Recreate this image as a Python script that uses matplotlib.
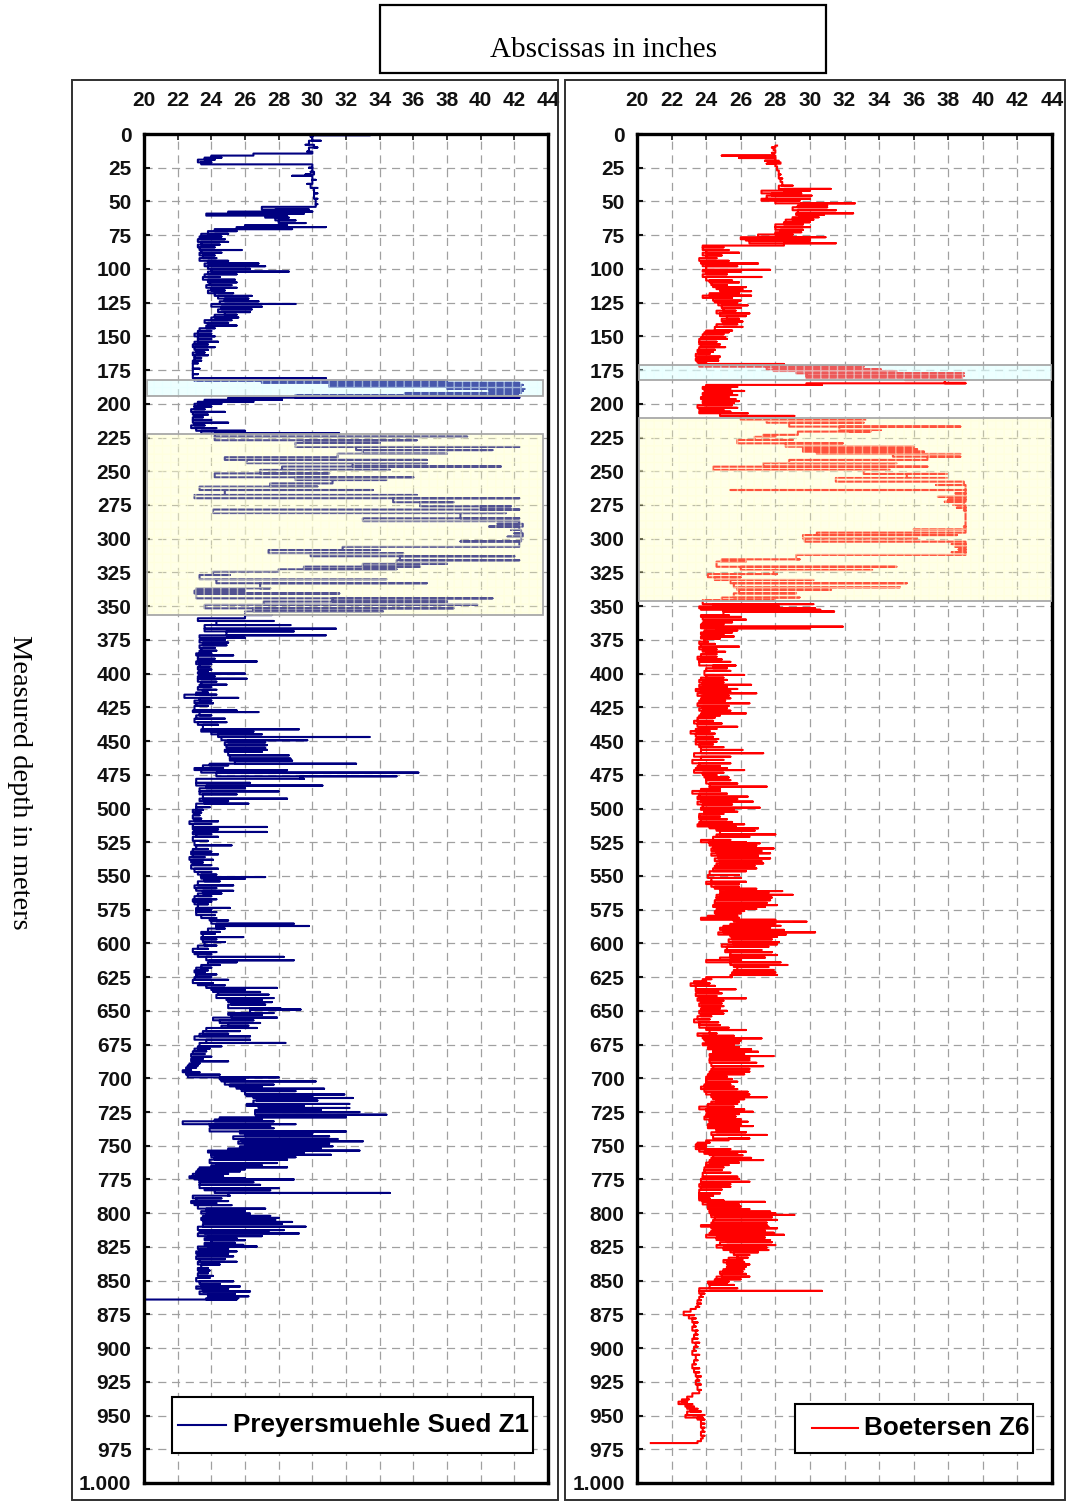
import numpy as np
import matplotlib.pyplot as plt
from matplotlib.patches import Rectangle
from matplotlib.lines import Line2D

# ---- data ----------------------------------------------------------------
# each row: depth (m), value the log runs along (base) and the value it
# swings out to at that depth (swing), both in inches

z1_name = "Preyersmuehle Sued Z1"
z1_depth = [1, 2, 5, 8, 10, 13, 14.5, 16, 17.5, 19,
            21, 22.5, 25, 28, 30, 31, 34, 37, 40, 44,
            48, 52, 54, 56, 57.5, 59, 60.5, 62, 64, 66,
            67.5, 69, 70.5, 72, 74, 76, 78, 80, 82, 84,
            86, 88, 90, 92, 94, 96, 98, 100, 102, 104,
            106, 108, 110, 112, 114, 116, 118, 120, 122, 124,
            126, 128, 130, 132, 134, 136, 138, 140, 142, 144,
            146, 148, 150, 152, 154, 156, 158, 160, 162, 164,
            166, 168, 170, 174, 178, 181, 183, 184.5, 186, 187.5,
            189, 190.5, 192, 193.5, 195.5, 197, 198.5, 200, 202, 204,
            206, 208, 210, 212, 214, 216, 218, 220, 222, 224.4,
            227, 229, 232, 234.3, 237, 239.6, 241.6, 244, 246.5, 249,
            251.6, 254.5, 256.5, 259, 261.4, 263.9, 267.6, 270, 273, 276,
            278.4, 281, 284.9, 287, 289, 291, 293.5, 296, 298.5, 302,
            306, 308.4, 310.8, 313, 316, 318.5, 320.7, 322.7, 324.4, 326.9,
            330, 333, 336.8, 338.5, 340.6, 344.2, 346.6, 349, 351.6, 354,
            356.6, 359, 361, 364, 366.7, 368.7, 371.6, 373.5, 375, 377,
            379, 381, 383, 385, 386.5, 389, 391, 393, 395, 397,
            399, 400, 402, 403.8, 406, 408.2, 410, 412, 414, 415.6,
            418, 420, 422, 424, 427.3, 428.5, 431, 433.4, 436, 438,
            441.3, 443, 445, 447, 449.4, 451, 453, 455, 456.5, 458,
            460.6, 463, 464.5, 466.8, 468, 470, 471.5, 473.4, 476.1, 478,
            481, 483, 485, 487.3, 489.5, 492.7, 494.5, 496.4, 499, 501,
            503, 505, 507.5, 509.5, 511.5, 513.7, 515.5, 517.4, 519, 521,
            524, 527.3, 530, 532, 534, 536, 538, 540, 542, 544.6,
            547, 549, 550.8, 552, 554, 557, 559, 561, 563, 565,
            567.3, 569, 571, 573.7, 575, 576.8, 579, 581.2, 583, 585.4,
            587.1, 589, 591.5, 593, 595.3, 597, 599, 601.6, 604, 606.4,
            608, 610, 612.5, 614, 616, 618, 620, 621.5, 623, 625,
            627, 629.4, 631, 633, 634.5, 636, 638, 640.5, 642, 643.5,
            645.4, 648, 649, 651.6, 653, 655, 657, 659, 661, 662.7,
            665, 667, 668.9, 671.4, 673.8, 676.3, 678, 680, 682, 684,
            685.5, 687.4, 689, 690.5, 692, 694, 695.5, 697.3, 699.3, 700.8,
            702.3, 704.7, 706, 707.7, 709.5, 712, 713.3, 714.6, 716.5, 719,
            720.5, 722, 723.5, 725, 727, 728.9, 730.5, 731.9, 734, 735.5,
            737, 739.4, 741, 743, 745, 746.7, 748.5, 750.4, 752, 753.6,
            755, 756.7, 758.5, 760.3, 762.8, 764.5, 766, 767.5, 769, 770.8,
            772.6, 774, 775, 777, 779, 781.4, 783, 785, 787, 789,
            791, 792.5, 794, 796.6, 798.5, 800.3, 802, 803.5, 805, 806.5,
            808, 810, 812.5, 814, 815, 817, 818.6, 820, 822, 823.5,
            824.7, 826.5, 828.3, 830, 832, 834, 836, 838, 840.6, 842.5,
            844.5, 846.5, 848, 850.5, 852.5, 854.3, 856, 858, 860, 861.6,
            863, 864]
z1_base = [30.0, 30.0, 29.8, 30.1, 29.8, 30.0, 26.5, 24.0, 23.6, 23.2,
           23.4, 30.0, 30.0, 30.1, 29.9, 30.0, 30.0, 29.9, 30.1, 30.1,
           30.2, 30.2, 27.0, 27.8, 25.0, 23.7, 27.2, 27.8, 28.0, 28.2,
           26.0, 25.5, 24.2, 23.8, 23.4, 23.3, 23.2, 23.4, 23.2, 23.3,
           23.4, 23.3, 23.5, 23.3, 23.8, 23.6, 23.8, 24.0, 23.8, 23.6,
           23.5, 23.8, 23.9, 23.7, 24.0, 23.8, 24.2, 24.4, 24.8, 24.5,
           24.0, 24.6, 24.4, 24.8, 24.2, 24.0, 23.6, 23.8, 23.7, 23.3,
           23.2, 23.0, 23.2, 23.2, 23.0, 22.9, 23.0, 23.1, 22.9, 23.0,
           23.0, 22.9, 22.9, 22.9, 22.9, 23.0, 27.0, 36.0, 31.0, 38.0,
           40.5, 41.0, 35.5, 29.0, 25.0, 23.6, 23.2, 23.0, 23.0, 22.8,
           22.9, 23.0, 22.9, 22.9, 23.0, 22.8, 23.1, 23.4, 24.2, 24.2,
           29.5, 29.0, 32.6, 33.0, 31.5, 24.8, 26.1, 32.4, 28.2, 26.9,
           24.2, 29.0, 31.2, 27.5, 23.3, 24.8, 23.0, 34.8, 36.4, 40.0,
           24.1, 38.8, 33.0, 42.3, 42.5, 42.3, 42.4, 42.5, 42.4, 42.3,
           31.8, 27.4, 29.9, 35.2, 35.0, 33.0, 29.5, 28.0, 24.1, 23.3,
           24.3, 26.9, 23.1, 23.0, 23.1, 31.2, 27.1, 23.6, 26.5, 26.0,
           26.0, 23.2, 24.3, 23.6, 23.6, 24.9, 23.3, 23.4, 23.3, 23.5,
           23.3, 23.4, 23.3, 23.1, 23.2, 23.2, 23.1, 23.3, 23.2, 23.3,
           23.2, 23.3, 23.2, 23.2, 23.4, 23.3, 23.2, 23.5, 23.1, 22.4,
           23.3, 23.0, 23.1, 23.0, 22.9, 23.3, 23.1, 23.0, 23.2, 23.5,
           23.4, 24.0, 24.4, 24.6, 25.0, 24.8, 24.9, 25.0, 24.8, 25.0,
           25.1, 25.1, 25.4, 23.9, 23.5, 23.0, 23.4, 24.3, 29.3, 23.1,
           23.1, 23.7, 23.3, 23.3, 23.5, 23.3, 23.6, 23.1, 23.1, 22.9,
           23.0, 22.9, 23.0, 22.7, 22.9, 22.9, 23.0, 22.9, 23.1, 22.9,
           23.0, 23.1, 22.9, 22.8, 22.9, 22.7, 22.8, 22.9, 22.8, 23.0,
           23.2, 23.4, 23.4, 23.6, 23.2, 23.0, 23.1, 23.5, 23.2, 23.0,
           22.9, 23.0, 23.2, 23.1, 23.1, 23.1, 23.4, 23.9, 24.0, 24.3,
           24.3, 23.8, 23.4, 23.5, 23.4, 23.5, 23.6, 23.2, 22.9, 23.0,
           23.2, 23.7, 23.9, 23.8, 23.4, 23.1, 23.0, 23.1, 23.1, 23.0,
           22.9, 23.2, 23.7, 24.0, 24.1, 24.4, 24.3, 24.9, 25.0, 25.2,
           25.0, 26.3, 26.3, 25.0, 25.2, 24.1, 24.5, 25.0, 24.6, 23.7,
           23.5, 23.3, 23.0, 23.7, 23.3, 23.2, 23.0, 22.9, 22.8, 22.9,
           22.8, 22.9, 22.7, 22.6, 22.5, 22.3, 22.5, 22.6, 24.5, 24.6,
           24.8, 25.1, 25.5, 25.8, 26.0, 26.1, 26.5, 26.7, 26.5, 26.1,
           26.8, 27.3, 26.6, 26.6, 26.7, 24.5, 24.2, 22.3, 23.9, 24.0,
           23.9, 25.7, 26.0, 25.3, 25.8, 25.6, 26.0, 25.7, 25.0, 23.8,
           24.0, 24.0, 24.2, 23.9, 24.3, 24.0, 23.3, 23.2, 23.1, 22.9,
           22.7, 23.0, 23.3, 23.3, 23.3, 23.6, 24.2, 25.0, 22.9, 23.1,
           22.8, 23.0, 23.2, 23.7, 23.4, 23.7, 23.5, 23.4, 23.5, 23.6,
           23.5, 23.2, 23.3, 23.6, 23.2, 23.8, 23.6, 24.0, 23.6, 23.8,
           23.2, 23.3, 23.1, 23.2, 23.1, 23.3, 23.2, 23.4, 23.2, 23.3,
           23.2, 23.3, 23.1, 23.3, 23.4, 23.1, 23.5, 23.3, 23.8, 23.9,
           23.7, 20.0]
z1_swing = [33.4, 29.9, 30.5, 29.6, 30.3, 29.7, 29.0, 26.0, 24.6, 24.2,
            24.0, 23.5, 29.8, 29.9, 29.6, 28.8, 30.2, 29.7, 30.3, 30.3,
            30.3, 30.3, 30.2, 29.8, 30.0, 29.5, 28.5, 28.6, 29.0, 29.6,
            28.5, 30.8, 28.8, 25.5, 25.0, 24.6, 24.8, 25.0, 24.5, 24.2,
            25.8, 24.6, 24.2, 24.3, 25.0, 26.8, 27.2, 26.3, 28.6, 25.5,
            24.5, 25.4, 25.5, 25.2, 25.5, 24.8, 25.3, 26.4, 26.2, 26.8,
            29.0, 27.0, 26.4, 26.3, 25.5, 25.6, 25.2, 25.0, 25.5, 24.2,
            24.0, 24.0, 24.2, 24.0, 24.4, 23.8, 24.2, 23.8, 23.6, 23.8,
            23.4, 23.4, 23.2, 23.3, 23.2, 30.8, 38.0, 42.3, 42.5, 42.4,
            42.6, 42.5, 42.4, 42.2, 42.3, 28.2, 26.5, 24.6, 24.0, 23.6,
            24.8, 23.8, 23.5, 24.0, 25.0, 23.6, 24.3, 26.0, 31.6, 39.2,
            36.2, 34.0, 42.3, 40.7, 38.0, 29.5, 36.8, 36.8, 41.2, 34.6,
            31.0, 36.0, 34.4, 31.0, 30.3, 33.6, 36.2, 42.3, 38.4, 41.8,
            42.3, 41.5, 42.3, 40.4, 41.0, 40.5, 41.8, 42.0, 41.6, 38.8,
            42.3, 34.0, 35.4, 42.0, 42.3, 38.0, 36.4, 35.0, 27.9, 25.1,
            34.4, 36.8, 27.5, 26.0, 31.6, 40.7, 38.0, 39.8, 38.4, 34.2,
            27.6, 25.5, 27.7, 28.7, 31.4, 28.9, 30.8, 26.0, 24.8, 25.0,
            24.9, 24.2, 24.3, 24.0, 25.3, 24.2, 26.7, 24.0, 23.9, 24.0,
            23.8, 26.0, 24.2, 26.1, 24.3, 24.9, 24.0, 24.3, 23.8, 24.3,
            25.6, 24.0, 24.1, 23.8, 25.5, 26.8, 24.0, 24.8, 24.9, 24.4,
            29.2, 26.5, 27.0, 33.4, 29.7, 27.2, 27.3, 27.2, 27.3, 27.0,
            28.6, 28.7, 28.8, 32.6, 25.0, 24.7, 28.5, 36.3, 35.0, 29.5,
            26.3, 30.6, 26.0, 28.0, 25.5, 28.5, 25.0, 26.2, 23.9, 23.5,
            23.4, 23.3, 23.4, 24.4, 24.0, 27.3, 24.4, 27.3, 24.0, 24.4,
            23.8, 25.2, 23.8, 24.0, 24.4, 23.6, 24.1, 23.5, 24.0, 24.4,
            24.0, 24.3, 27.2, 26.0, 24.5, 25.3, 24.3, 25.3, 24.6, 24.0,
            24.3, 24.0, 23.8, 25.1, 24.0, 24.3, 24.2, 24.3, 25.0, 28.9,
            29.8, 24.8, 24.5, 24.2, 25.9, 24.3, 24.8, 24.3, 23.8, 24.3,
            24.0, 28.3, 28.9, 25.5, 24.5, 24.0, 23.8, 23.6, 24.3, 24.0,
            25.0, 24.1, 24.8, 27.9, 26.0, 26.9, 27.4, 27.7, 27.0, 27.6,
            27.2, 28.1, 29.3, 27.7, 27.0, 27.9, 26.5, 26.9, 26.2, 26.7,
            25.7, 25.0, 26.3, 26.3, 28.4, 24.6, 23.9, 23.7, 23.6, 24.0,
            23.5, 25.0, 23.3, 23.2, 23.1, 22.8, 23.3, 24.5, 28.0, 26.0,
            30.2, 27.7, 27.0, 30.7, 29.0, 31.9, 30.0, 32.4, 30.3, 32.2,
            29.5, 32.2, 30.5, 32.8, 34.4, 32.0, 27.0, 27.7, 29.0, 27.5,
            27.7, 32.0, 30.0, 31.0, 31.5, 33.0, 31.0, 31.2, 30.5, 32.8,
            29.5, 31.1, 29.0, 28.5, 27.9, 27.0, 28.5, 26.0, 25.7, 25.0,
            24.7, 26.0, 28.9, 26.5, 26.9, 28.0, 27.5, 34.6, 25.1, 24.6,
            25.0, 24.3, 25.2, 27.2, 26.0, 26.3, 27.5, 28.0, 27.8, 28.8,
            28.2, 29.6, 28.3, 27.4, 29.2, 27.0, 25.5, 26.0, 25.4, 25.9,
            26.7, 25.0, 25.5, 25.0, 25.3, 24.8, 25.5, 24.5, 23.8, 23.9,
            23.8, 24.1, 23.9, 25.3, 24.5, 25.7, 25.0, 26.3, 25.4, 26.2,
            25.6, 25.5]

z6_name = "Boetersen Z6"
z6_depth = [8.6, 10, 12, 14, 16, 17.8, 19.8, 21, 22, 24,
            27, 30, 33, 35.5, 38.3, 40.7, 42, 44, 45.7, 48,
            49.5, 51.4, 53, 54.3, 56.5, 58.8, 60, 61.7, 63.5, 65.4,
            67, 69, 71, 72.8, 74.5, 76.5, 78, 79, 81, 82.7,
            84, 86, 88, 90, 92, 94, 96, 98, 100.7, 102,
            104, 106, 108.6, 110, 112, 113.5, 115, 116.5, 118, 119.8,
            121.5, 123.5, 125, 127, 129, 131, 133, 135, 137, 139,
            141, 143, 145.7, 147, 148.5, 150.6, 151.9, 154, 156, 158,
            160, 161.5, 163, 165, 166.5, 168, 169.5, 170.5, 172.5, 174.5,
            175.7, 177.4, 179.4, 181, 182.4, 184.8, 186, 187.5, 189, 190.5,
            192, 193.5, 195, 196.5, 198, 199.5, 201, 203, 204.5, 205.8,
            207, 209, 212, 214, 216.9, 219.4, 220.6, 223, 224.5, 226.8,
            229.3, 231.8, 233.8, 235.5, 237.2, 239.2, 241.6, 244, 246.6, 249,
            252, 255, 257.7, 260.2, 263.9, 266.4, 268.9, 271, 272.6, 275,
            277, 279, 282, 286, 291, 293, 295.5, 297.3, 299.7, 302.2,
            304, 306, 308, 310, 312, 315.3, 317, 320.8, 323.2, 326.2,
            328.6, 330.6, 333, 336, 338, 340.5, 343.5, 345.5, 348.5, 350.2,
            351.6, 352.7, 354, 356.6, 358, 360, 362, 363.5, 365.2, 366.4,
            368, 369.5, 371, 372.5, 374, 376.3, 378, 380, 382, 383.8,
            385.5, 387.5, 389.5, 391.3, 394, 396, 398, 401, 403, 404.7,
            406.5, 408.3, 410, 411.4, 413, 414.6, 416.5, 418.3, 420, 422,
            424, 425.7, 427.5, 429.5, 431, 432.6, 435, 437, 439.4, 441,
            442.6, 444.5, 446.8, 448.5, 450.5, 452.5, 454.5, 456.6, 459, 461.6,
            464, 466.5, 468.5, 470, 471.5, 473.5, 475.2, 477, 479, 481.5,
            483.8, 485.5, 487, 489, 491.2, 493, 494.9, 497, 499.4, 501,
            502.4, 504, 506, 508, 510, 511.7, 513.3, 514.7, 516.5, 519.2,
            521, 523.3, 525, 525.8, 527.5, 529.6, 531.5, 533.2, 535, 537,
            539, 540.7, 542.5, 544.4, 546.5, 549.3, 551.5, 554.3, 556, 558,
            559.5, 561.2, 562.5, 564, 566, 568, 570, 571.6, 573, 574.5,
            576, 577.7, 579.5, 581, 582.5, 583.9, 585.5, 587, 588.4, 590,
            591.8, 593.5, 595, 597, 599, 600.7, 602.5, 604.9, 606.5, 608.6,
            610.5, 612.3, 614, 616, 617.5, 619.7, 621.5, 623.4, 625, 626.5,
            628, 629.6, 631.5, 634, 635.5, 637, 639, 640.7, 642.5, 644.5,
            646.5, 648.2, 650, 652, 654, 656.3, 658.5, 660.5, 662.5, 664.2,
            666.7, 668.5, 670.4, 672, 674, 675.5, 677, 678.5, 680.3, 682,
            683.5, 685, 686.5, 688.5, 691, 693, 695, 697, 698.8, 700.5,
            702.5, 704.5, 706.2, 708, 710, 712, 714, 715.5, 717.3, 719,
            721, 723, 724.8, 726.5, 728.4, 730.5, 732.2, 734, 735.4, 737,
            738.3, 740, 742, 744.6, 746, 747.7, 749, 750.6, 752.5, 754.4,
            756, 757, 759, 760.6, 762.5, 764.3, 766, 768, 770, 772.9,
            774.5, 776.7, 778.5, 780.4, 782.5, 785.3, 787, 789, 790.5, 791.6,
            793.5, 795, 797, 798.8, 800, 801.3, 803, 805, 807, 808.8,
            810, 811.2, 813, 814.5, 816, 818, 819.9, 821.5, 823.6, 825.5,
            827.3, 829, 831, 833, 834.7, 836.5, 838, 839.6, 841.5, 843.3,
            845, 847, 849, 850.7, 852, 853.2, 855.6, 857.6, 859.6, 862,
            864.5, 867, 869.4, 871, 873, 875.6, 878, 881, 884, 887,
            890, 893, 896, 899, 902, 905, 909, 912, 915, 918,
            921, 924, 927, 931, 933.5, 936, 938, 939.7, 941.5, 943.4,
            945, 947, 949.6, 951.5, 953, 956, 959, 962, 965, 967,
            969, 970.4]
z6_base = [28.0, 27.9, 28.0, 27.9, 28.0, 28.0, 28.2, 28.3, 28.0, 28.1,
           28.2, 28.2, 28.3, 28.4, 28.2, 28.5, 27.2, 27.8, 27.5, 27.2,
           28.0, 29.5, 29.3, 29.0, 29.3, 29.2, 29.4, 29.0, 28.6, 28.5,
           28.0, 28.0, 28.3, 28.0, 27.0, 26.0, 26.3, 26.5, 28.5, 23.8,
           23.8, 24.0, 23.8, 24.0, 23.6, 23.7, 23.8, 24.0, 23.8, 24.0,
           23.8, 24.0, 24.2, 24.3, 24.4, 24.6, 24.8, 24.9, 24.2, 23.8,
           24.4, 24.5, 24.7, 24.9, 25.0, 24.6, 24.8, 25.2, 24.9, 25.0,
           24.6, 24.5, 24.0, 23.9, 23.8, 23.7, 23.6, 23.6, 23.7, 23.6,
           23.5, 23.6, 23.4, 23.5, 23.4, 23.5, 23.6, 23.6, 27.5, 27.9,
           29.2, 29.8, 29.8, 35.5, 37.8, 29.8, 24.0, 23.8, 23.9, 24.0,
           23.8, 23.9, 23.7, 24.0, 23.8, 23.9, 23.5, 23.6, 23.8, 23.6,
           24.8, 26.0, 27.5, 28.8, 31.7, 32.3, 29.3, 27.3, 26.8, 25.8,
           28.6, 29.6, 29.6, 30.4, 34.8, 36.8, 28.8, 27.3, 24.4, 33.1,
           35.6, 31.5, 38.9, 39.0, 39.0, 39.0, 39.0, 39.0, 38.9, 39.0,
           39.0, 39.0, 39.0, 39.0, 39.0, 39.0, 30.4, 29.6, 29.7, 39.0,
           39.0, 39.0, 39.0, 39.0, 29.2, 24.9, 24.6, 26.0, 27.9, 24.1,
           24.5, 25.4, 25.6, 25.8, 25.9, 25.6, 24.9, 23.8, 24.4, 23.6,
           23.7, 25.0, 25.0, 23.7, 23.8, 23.9, 23.8, 23.7, 23.7, 24.6,
           23.9, 23.7, 23.8, 23.7, 23.9, 23.6, 23.7, 23.6, 23.8, 24.0,
           23.7, 23.5, 23.6, 23.6, 24.4, 24.0, 23.9, 24.0, 23.7, 23.6,
           23.8, 23.6, 23.7, 23.4, 23.7, 23.5, 23.8, 23.7, 23.6, 23.5,
           23.8, 23.6, 23.8, 23.7, 23.6, 23.5, 23.3, 23.5, 23.6, 23.4,
           23.1, 23.4, 23.5, 23.4, 23.4, 23.6, 23.7, 23.7, 23.3, 23.7,
           23.2, 23.6, 23.5, 23.4, 23.3, 23.8, 23.9, 24.0, 24.0, 24.2,
           24.2, 23.7, 23.2, 23.6, 23.5, 23.7, 23.5, 23.8, 23.7, 23.9,
           23.9, 23.6, 23.6, 23.7, 23.6, 23.5, 24.2, 24.6, 24.8, 24.6,
           24.4, 23.7, 24.2, 24.2, 24.4, 24.3, 24.6, 24.3, 24.7, 24.5,
           24.8, 24.6, 24.5, 24.4, 24.2, 24.1, 24.3, 24.0, 24.3, 24.5,
           24.8, 25.2, 24.8, 24.6, 24.6, 24.5, 24.5, 24.4, 24.7, 24.6,
           24.5, 24.6, 24.1, 23.7, 25.6, 25.8, 25.4, 25.0, 24.8, 25.0,
           24.7, 25.4, 25.5, 25.3, 25.6, 24.9, 25.2, 25.1, 25.4, 25.4,
           24.8, 24.0, 25.4, 25.6, 25.8, 25.6, 25.5, 25.4, 24.0, 23.8,
           23.3, 23.1, 23.4, 23.4, 23.5, 23.4, 23.6, 23.5, 23.7, 23.6,
           23.8, 23.7, 23.6, 23.7, 23.5, 23.3, 23.6, 23.6, 24.0, 24.2,
           23.5, 23.8, 23.9, 24.0, 23.8, 24.2, 24.1, 24.4, 24.4, 24.2,
           24.4, 24.2, 24.2, 24.3, 24.4, 24.3, 24.2, 24.1, 24.0, 24.0,
           24.0, 23.9, 23.7, 23.9, 24.0, 24.3, 24.4, 24.6, 24.3, 24.1,
           23.6, 24.0, 24.1, 24.0, 23.9, 24.2, 24.2, 24.1, 24.1, 24.6,
           24.6, 24.3, 24.4, 25.3, 24.0, 23.5, 23.4, 23.4, 23.6, 23.9,
           24.2, 24.4, 24.3, 24.2, 24.0, 24.0, 23.9, 23.9, 23.8, 23.8,
           23.7, 23.7, 23.6, 23.7, 23.6, 23.6, 23.6, 23.6, 23.8, 23.8,
           24.1, 24.1, 24.2, 24.2, 24.3, 24.3, 24.5, 24.4, 24.3, 23.7,
           24.3, 24.4, 24.3, 24.2, 24.0, 24.6, 25.2, 24.8, 24.6, 25.0,
           25.4, 25.6, 25.8, 25.3, 25.0, 25.2, 25.3, 25.2, 25.0, 24.8,
           24.9, 24.6, 24.5, 24.1, 24.2, 24.2, 23.6, 23.6, 23.7, 23.6,
           23.5, 23.5, 23.4, 23.1, 22.7, 23.0, 23.2, 23.3, 23.2, 23.4,
           23.3, 23.2, 23.4, 23.3, 23.2, 23.4, 23.3, 23.2, 23.3, 23.4,
           23.5, 23.4, 23.5, 23.6, 23.2, 22.9, 22.6, 22.4, 22.8, 22.9,
           23.1, 22.9, 22.8, 23.5, 23.7, 23.7, 23.8, 23.7, 23.8, 23.7,
           23.5, 20.8]
z6_swing = [28.1, 27.8, 27.9, 27.8, 24.9, 25.9, 27.4, 27.6, 27.5, 28.0,
            28.1, 28.3, 28.4, 28.3, 29.0, 31.2, 30.0, 29.5, 30.1, 30.0,
            29.4, 32.6, 31.0, 31.0, 31.5, 32.5, 30.8, 30.5, 30.2, 30.0,
            29.6, 30.0, 29.6, 29.5, 29.0, 30.9, 30.0, 30.0, 31.5, 28.5,
            25.0, 25.3, 25.9, 24.9, 24.6, 25.3, 27.0, 25.8, 27.7, 26.0,
            25.2, 27.2, 25.5, 25.9, 25.2, 26.3, 26.1, 26.6, 25.9, 26.6,
            25.5, 26.0, 25.8, 26.4, 26.0, 25.7, 26.5, 26.3, 25.9, 26.1,
            25.8, 26.1, 25.5, 25.3, 25.0, 25.1, 25.2, 24.6, 24.8, 25.1,
            24.5, 24.4, 24.2, 24.8, 24.7, 24.7, 24.0, 28.5, 33.1, 34.1,
            35.0, 38.9, 38.9, 38.8, 39.0, 39.0, 30.7, 25.8, 25.4, 26.2,
            25.5, 25.8, 25.3, 25.7, 25.9, 25.6, 25.5, 25.8, 25.0, 25.4,
            26.4, 29.1, 33.2, 33.1, 38.7, 34.1, 33.5, 28.8, 28.0, 29.0,
            31.9, 36.0, 36.2, 36.6, 38.7, 38.7, 35.6, 35.0, 36.8, 34.6,
            37.9, 37.9, 37.9, 37.3, 25.4, 38.4, 37.4, 38.0, 37.8, 38.3,
            38.5, 38.9, 39.0, 39.0, 38.9, 36.0, 34.8, 38.5, 36.2, 37.9,
            38.2, 38.4, 38.6, 38.2, 39.0, 29.4, 26.3, 35.0, 33.6, 28.1,
            26.0, 30.2, 35.6, 35.2, 31.2, 29.2, 29.4, 27.9, 30.2, 28.2,
            30.3, 30.6, 31.4, 25.3, 26.0, 26.3, 25.5, 25.0, 31.9, 30.0,
            25.8, 25.5, 25.0, 25.6, 24.8, 24.1, 24.5, 25.9, 24.6, 25.1,
            24.6, 24.6, 24.9, 25.4, 25.7, 25.2, 25.4, 26.2, 25.0, 25.2,
            25.0, 26.6, 25.2, 25.8, 25.4, 26.9, 25.3, 25.4, 25.1, 26.5,
            25.3, 25.2, 25.4, 26.3, 24.8, 24.5, 24.4, 24.9, 25.8, 24.6,
            24.2, 24.5, 24.4, 24.7, 24.6, 24.4, 25.0, 26.1, 27.3, 25.4,
            25.0, 25.4, 24.8, 25.2, 26.2, 25.0, 24.6, 25.3, 25.4, 25.8,
            27.5, 24.8, 24.8, 25.2, 26.4, 25.8, 26.7, 25.5, 27.1, 25.6,
            25.8, 25.0, 24.8, 25.2, 25.5, 26.2, 25.7, 27.0, 26.8, 28.0,
            26.5, 25.4, 26.3, 27.1, 26.9, 27.9, 27.2, 27.7, 27.0, 27.7,
            27.2, 27.3, 26.8, 26.9, 26.3, 25.9, 26.0, 26.3, 25.9, 25.9,
            26.9, 28.4, 27.6, 29.0, 27.8, 27.7, 27.5, 28.1, 27.4, 26.9,
            26.2, 26.0, 25.8, 25.9, 28.0, 29.8, 28.0, 28.3, 27.7, 28.5,
            30.3, 28.6, 28.1, 27.8, 28.2, 28.1, 27.6, 27.2, 27.8, 28.1,
            27.4, 26.0, 28.3, 28.7, 27.6, 27.9, 28.0, 28.1, 25.5, 24.3,
            24.0, 24.2, 24.5, 25.7, 24.7, 24.9, 24.6, 26.3, 25.0, 24.9,
            25.0, 24.8, 25.2, 25.0, 24.3, 24.2, 24.7, 24.8, 25.3, 26.3,
            24.6, 25.6, 27.2, 26.0, 25.9, 25.6, 25.9, 26.6, 27.0, 26.2,
            27.9, 26.5, 26.5, 26.9, 27.3, 26.5, 26.5, 26.2, 25.2, 25.5,
            25.8, 25.4, 25.6, 25.8, 26.4, 26.5, 27.5, 26.2, 25.9, 25.8,
            25.6, 26.2, 26.7, 25.9, 25.7, 26.0, 26.4, 26.0, 26.7, 25.9,
            25.9, 26.3, 27.5, 26.5, 25.0, 24.2, 24.0, 24.0, 25.4, 26.3,
            25.8, 26.1, 26.6, 27.3, 25.9, 25.3, 25.0, 24.9, 25.4, 25.8,
            25.9, 26.5, 25.4, 25.4, 24.9, 24.8, 24.4, 24.2, 25.0, 27.4,
            25.9, 26.0, 26.5, 27.7, 28.0, 29.1, 27.8, 28.1, 27.5, 27.5,
            27.6, 28.1, 27.4, 27.9, 28.5, 27.4, 27.7, 27.8, 28.0, 27.5,
            27.6, 27.0, 26.5, 26.4, 26.1, 26.2, 26.5, 26.3, 26.2, 26.1,
            26.3, 26.5, 26.0, 25.3, 25.2, 25.6, 25.8, 30.7, 23.9, 23.8,
            23.7, 23.7, 23.6, 23.4, 23.1, 23.3, 23.4, 23.5, 23.4, 23.5,
            23.5, 23.5, 23.6, 23.5, 23.4, 23.6, 23.5, 23.4, 23.6, 23.6,
            23.7, 23.6, 23.7, 23.7, 23.5, 23.2, 23.0, 22.9, 23.2, 23.3,
            23.5, 23.7, 23.9, 23.8, 23.9, 23.9, 23.9, 23.9, 23.9, 23.8,
            23.6, 23.4]

# highlighted depth intervals (top, bottom, colour)
z1_bands = [(182.4, 194.2, "cyan"), (222.4, 356.6, "yellow")]
z6_bands = [(171.2, 182.4, "cyan"), (210.5, 346.2, "yellow")]

x_ticks = list(range(20, 45, 2))
y_ticks = list(range(0, 1001, 25))
y_labels = [str(v) for v in y_ticks[:-1]] + ["1.000"]

assert len(z1_depth) == len(z1_base) == len(z1_swing)
assert len(z6_depth) == len(z6_base) == len(z6_swing)

# ---- figure --------------------------------------------------------------
W, H = 1067, 1501
fig = plt.figure(figsize=(W / 100, H / 100), dpi=100)


def px_rect(x0, y0, x1, y1):
    return [x0 / W, 1 - y1 / H, (x1 - x0) / W, (y1 - y0) / H]


band_face = {"yellow": (1.0, 1.0, 0.72, 0.32), "cyan": (0.80, 1.0, 1.0, 0.35)}
band_hatch = {"yellow": (1.0, 1.0, 0.85, 0.55), "cyan": (0.90, 1.0, 1.0, 0.55)}
tick_font = dict(family="Liberation Sans", weight="bold", size=15)


def draw_log(rect, depth, base, swing, color, bands, band_x):
    ax = fig.add_axes(rect)
    depth = np.asarray(depth)
    xs = np.column_stack([swing, base]).ravel()
    ys = np.repeat(depth, 2)
    ax.plot(xs, ys, drawstyle="steps-pre", color=color, lw=1.5, zorder=2)

    for top, bot, c in bands:
        ax.add_patch(Rectangle((band_x[0], top), band_x[1] - band_x[0], bot - top,
                               facecolor=band_face[c], edgecolor=band_hatch[c],
                               hatch="++", lw=0, zorder=3))
        ax.add_patch(Rectangle((band_x[0], top), band_x[1] - band_x[0], bot - top,
                               fill=False, edgecolor="#a8a8a8", lw=1.3, zorder=4))

    ax.set_xlim(20, 44)
    ax.set_ylim(1000, 0)
    ax.xaxis.tick_top()
    ax.set_xticks(x_ticks)
    ax.set_xticklabels([str(v) for v in x_ticks], **tick_font)
    ax.set_yticks(y_ticks)
    ax.set_yticklabels(y_labels, **tick_font)
    ax.tick_params(axis="x", direction="in", length=4, width=1.2, pad=17,
                   colors="#111111")
    ax.tick_params(axis="y", direction="in", length=4, width=1.5, pad=9,
                   colors="#111111")
    ax.grid(True, color="#a0a0a0", lw=0.9, linestyle=(0, (6.5, 4.5)))
    ax.set_axisbelow(True)
    for s in ax.spines.values():
        s.set_linewidth(2.4)
        s.set_color("black")
    return ax


def legend_box(box, line_x, text_x, y, color, name):
    x0, y0, x1, y1 = box
    fig.add_artist(Rectangle((x0 / W, 1 - y1 / H), (x1 - x0) / W, (y1 - y0) / H,
                             transform=fig.transFigure, facecolor="white",
                             edgecolor="black", lw=1.5, zorder=5))
    fig.add_artist(Line2D([line_x[0] / W, line_x[1] / W], [1 - y / H, 1 - y / H],
                          transform=fig.transFigure, color=color, lw=1.5,
                          zorder=6))
    fig.text(text_x / W, 1 - y / H, name, ha="left", va="center",
             family="Liberation Sans", weight="bold", size=18.8, zorder=6)


draw_log(px_rect(144, 134, 548, 1483), z1_depth, z1_base, z1_swing, "#000080",
         z1_bands, (20.2, 43.7))
draw_log(px_rect(637, 134, 1052, 1483), z6_depth, z6_base, z6_swing, "#ff0000",
         z6_bands, (20.1, 44.0))

legend_box((172, 1397, 533, 1453), (178, 226), 233, 1425, "#000080", z1_name)
legend_box((795, 1404, 1033, 1453), (812, 858), 864, 1428, "#ff0000", z6_name)

# outer panel frames and title box
for x0, y0, x1, y1 in [(72, 80, 558, 1500), (565, 80, 1065, 1500)]:
    fig.add_artist(Rectangle((x0 / W, 1 - y1 / H), (x1 - x0) / W, (y1 - y0) / H,
                             transform=fig.transFigure, fill=False,
                             edgecolor="#303030", lw=1.4))
fig.add_artist(Rectangle((380 / W, 1 - 73 / H), 446 / W, 68 / H,
                         transform=fig.transFigure, fill=False,
                         edgecolor="black", lw=1.6))
fig.text(603 / W, 1 - 50 / H, "Abscissas in inches", ha="center", va="center",
         family="Liberation Serif", size=21)
fig.text(19 / W, 1 - 782 / H, "Measured depth in meters", ha="center",
         va="center", rotation=-90, family="Liberation Serif", size=20.5)

fig.savefig("out.png", dpi=100)
